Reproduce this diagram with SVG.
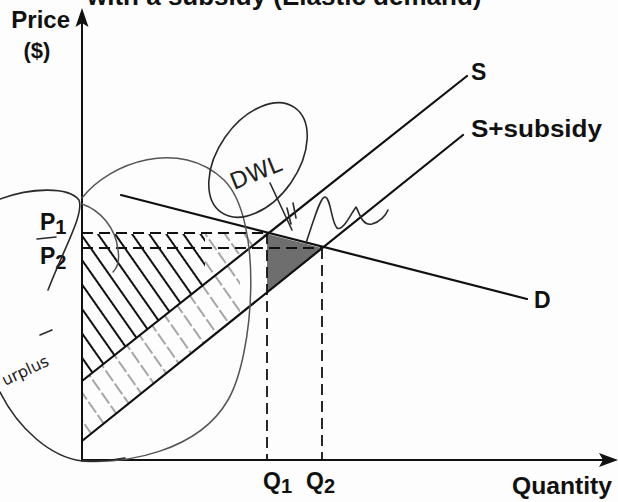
<svg xmlns="http://www.w3.org/2000/svg" width="618" height="502" viewBox="0 0 618 502">
<style>
.ax{stroke:#111;stroke-width:2;fill:none}
.ln{stroke:#111;stroke-width:2.2;fill:none;stroke-linecap:round}
.dash{stroke:#111;stroke-width:1.8;stroke-dasharray:11 6;fill:none}
.lbl{font-family:"Liberation Sans",Arial,sans-serif;font-weight:bold;fill:#111;font-size:23px}
.hw{stroke:#2a2a2a;stroke-width:1.6;fill:none;stroke-linecap:round;stroke-linejoin:round}
.hwg{stroke:#555;stroke-width:1.5;fill:none;stroke-linecap:round}
.hwtxt{font-family:"DejaVu Sans",sans-serif;fill:#222}
</style>
<defs>
<pattern id="hatchDark" width="14" height="14" patternUnits="userSpaceOnUse" patternTransform="rotate(-35)">
<line x1="2" y1="0" x2="2" y2="14" stroke="#111" stroke-width="2"/>
</pattern>
<pattern id="hatchLight" width="16" height="16" patternUnits="userSpaceOnUse" patternTransform="rotate(-35)">
<line x1="2" y1="0" x2="2" y2="16" stroke="#777" stroke-width="1.3" stroke-dasharray="9 3"/>
</pattern>
</defs>
<rect width="618" height="502" fill="#fdfdfd"/>

<text class="lbl" x="87" y="5" style="font-size:26px">with a subsidy (Elastic demand)</text>

<g id="shading">
<polygon points="82,234 205,234 205,284 82,381" fill="url(#hatchDark)"/>
<polygon points="205,234 266,234 205,284" fill="url(#hatchLight)"/>
<polygon points="82,381 240,256 240,314 82,441" fill="url(#hatchLight)"/>
<polygon id="dwl-area" points="267,234 322,248 267,292" fill="#555" opacity="0.85"/>
</g>

<g id="axes">
<line class="ax" x1="82" y1="461" x2="82" y2="20"/>
<polygon points="82,8 75.5,27 82,23 88.5,27" fill="#111"/>
<line class="ax" x1="81" y1="460" x2="605" y2="460"/>
<polygon points="618,460 599,453 603,460 599,467" fill="#111"/>
<text class="lbl" x="70" y="28" text-anchor="end" style="font-size:24px">Price</text>
<text class="lbl" x="37" y="58" text-anchor="middle" style="font-size:22px">($)</text>
<text class="lbl" x="612" y="494" text-anchor="end" textLength="100" lengthAdjust="spacingAndGlyphs">Quantity</text>
</g>

<g id="connectors">
<line class="dash" x1="82" y1="233" x2="267" y2="233"/>
<line class="dash" x1="82" y1="248" x2="322" y2="248"/>
<line class="dash" x1="267" y1="233" x2="267" y2="460"/>
<line class="dash" x1="322" y1="248" x2="322" y2="460"/>
</g>

<g id="S">
<line class="ln" x1="82" y1="381" x2="467" y2="76"/>
<text class="lbl" x="471" y="80">S</text>
</g>
<g id="S-subsidy">
<line class="ln" x1="82" y1="441" x2="463" y2="135"/>
<text class="lbl" x="471" y="137" textLength="131" lengthAdjust="spacingAndGlyphs">S+subsidy</text>
</g>
<g id="D">
<line class="ln" x1="121" y1="195" x2="527" y2="299"/>
<text class="lbl" x="534" y="308">D</text>
</g>

<g id="P-labels">
<text class="lbl" x="40" y="230">P<tspan style="font-size:20px" dy="4">1</tspan></text>
<text class="lbl" x="40" y="264">P<tspan style="font-size:20px" dy="5">2</tspan></text>
</g>
<g id="Q-labels">
<text class="lbl" x="263" y="489">Q<tspan style="font-size:20px" dy="4">1</tspan></text>
<text class="lbl" x="306" y="489">Q<tspan style="font-size:20px" dy="4">2</tspan></text>
</g>

<g id="annotations">
<path class="hwg" d="M82,198 C110,162 180,138 224,180 C264,220 254,355 228,400 C198,452 125,464 82,461"/>
<path class="hwg" d="M82,204 C100,210 116,228 118,250 C120,262 117,268 113,272"/>
<path class="hw" d="M0,199 C30,188 68,186 79,200 C84,214 66,244 48,290"/>
<path class="hw" d="M0,392 C18,428 50,457 82,461 C100,462 115,460 125,458"/>
<path class="hw" d="M37,239 L56,237"/>
<path class="hw" d="M40,335 L52,330"/>
<text class="hwtxt" x="5" y="386" transform="rotate(-25 5 386)" style="font-size:16px">urplus</text>
<ellipse class="hw" cx="258" cy="160" rx="64" ry="40" transform="rotate(-55 258 160)"/>
<text class="hwtxt" x="234" y="190" transform="rotate(-22 234 190)" style="font-size:23px">DWL</text>
<path class="hw" d="M270,183 L292,230"/>
<path class="hw" d="M287,208 L291,224 M293,203 L296,218"/>
<path class="hw" d="M306,243 C314,220 320,197 325,197 C331,198 331,222 337,228 C343,232 352,212 356,207 C360,214 362,226 372,224 C380,222 386,215 388,210"/>
</g>
</svg>
